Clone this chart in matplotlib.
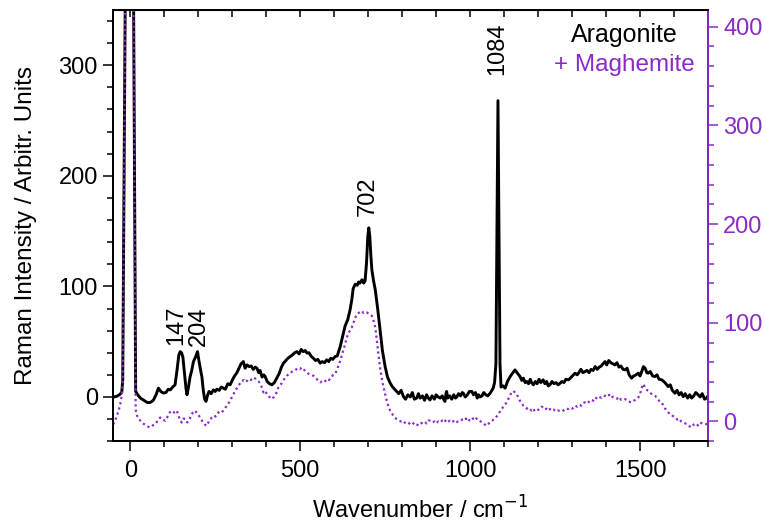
import matplotlib
matplotlib.use('Agg')
import matplotlib.pyplot as plt
import numpy as np
from matplotlib.ticker import MultipleLocator

plt.rcParams['font.family'] = ['Liberation Sans', 'DejaVu Sans']

purple = '#8a2bc8'

# Aragonite spectrum (left axis)
arag_x = [-50, -40, -32, -25, -22, -1, 16, 22, 30, 40, 50, 59, 68, 76, 83, 90, 97, 105, 112, 118,
          125, 132, 138, 143, 147, 151, 155, 160, 164, 167, 171, 176, 181, 186, 192, 198, 202, 206, 211, 215,
          219, 223, 228, 232, 238, 245, 250, 255, 262, 268, 274, 280, 287, 294, 300, 307, 314, 320, 326, 333,
          338, 344, 350, 356, 362, 368, 373, 378, 382, 388, 393, 397, 403, 410, 417, 424, 431, 438, 445, 451,
          458, 464, 471, 477, 484, 490, 497, 503, 509, 515, 520, 526, 532, 539, 545, 552, 559, 565, 572, 578,
          584, 590, 596, 603, 609, 613, 618, 625, 632, 640, 647, 652, 656, 662, 668, 672, 676, 682, 687, 691,
          695, 699, 702, 705, 708, 711, 716, 721, 728, 735, 742, 750, 757, 765, 772, 778, 784, 790, 797, 804,
          810, 817, 824, 830, 836, 843, 848, 853, 860, 866, 872, 877, 882, 888, 895, 900, 906, 912, 918, 922,
          926, 929, 931, 934, 940, 946, 952, 957, 961, 966, 972, 977, 980, 986, 992, 998, 1005, 1010, 1016, 1021,
          1025, 1029, 1035, 1040, 1046, 1052, 1059, 1064, 1068, 1072, 1076, 1082, 1088, 1091, 1097, 1103, 1110, 1118, 1124, 1132,
          1138, 1143, 1147, 1152, 1157, 1162, 1167, 1172, 1177, 1181, 1186, 1192, 1197, 1203, 1208, 1215, 1220, 1225, 1230, 1235,
          1241, 1247, 1253, 1259, 1265, 1270, 1276, 1282, 1289, 1295, 1301, 1309, 1315, 1320, 1326, 1332, 1338, 1344, 1350, 1356,
          1362, 1368, 1374, 1380, 1386, 1391, 1397, 1402, 1408, 1414, 1420, 1426, 1432, 1438, 1444, 1450, 1456, 1462, 1468, 1475,
          1481, 1488, 1495, 1500, 1505, 1510, 1515, 1520, 1524, 1530, 1537, 1544, 1550, 1556, 1564, 1570, 1576, 1583, 1589, 1595,
          1603, 1609, 1615, 1621, 1627, 1633, 1640, 1646, 1652, 1658, 1664, 1671, 1677, 1683, 1690, 1696, 1700]
arag_y = [0, 0.5, 2, 4, 15, 1000, 5, 2, -1, -3, -5, -5, -3, 2, 8, 5, 3.6, 4, 7, 6.4,
          9, 11, 25, 38, 41, 40, 36, 20, 8, 2, 8, 18, 24, 32, 36, 41, 33, 26, 18, 6,
          -2, -4, 2, 5, 3, 6.4, 5, 7, 6, 9, 8, 7, 12, 11, 15, 19, 22, 26, 30, 32,
          26, 29, 27.5, 28, 25, 27, 26, 22, 24, 18, 20, 18.5, 14, 12, 11, 13, 17, 21, 27, 30.6,
          33, 35, 36.6, 38, 40, 41, 39, 43, 41, 42, 39.7, 40, 37, 35, 33, 34, 30.6, 32, 31, 33.6,
          32, 35, 34, 36.6, 37, 41, 45.7, 55, 64, 70, 79, 88, 98, 102, 101, 104, 103, 106, 103, 105,
          120, 145, 153, 145, 128, 115, 105, 97, 80, 61, 42, 27.5, 18, 12.5, 9, 7, 5, 3, 6, 0.3,
          -2, 2, 0, 4, -2, -1, 3, -1, 1, -3, 2, -1, -2.7, 1, -2, 2, 0, -1, 1, -2,
          -4, 3, 5, -1, 1, -2, 2, -1, 0, 3, 1, 4, 3.4, 0, 2, 5, 5, 2, 4, -1,
          2, 0, 1, 4, 2, 1, 3.4, 6, 8, 13, 30, 268, 30, 9, 10, 8, 14, 18.5, 21, 24.5,
          22, 20, 18.5, 15, 17, 13, 14, 12, 16, 13, 11, 14, 12, 16, 13, 15.5, 12, 14, 10, 11,
          14, 12, 13, 11, 12.5, 14, 13, 16, 15.5, 17, 19, 21.5, 20, 22, 25, 22, 23, 24, 22, 25,
          24, 27.5, 25, 27, 28, 30, 32, 29, 33, 31, 30, 29, 31, 27, 28, 25, 24.5, 26, 20, 17,
          19, 20, 21.5, 19, 23, 27.5, 26, 22, 21.5, 23, 19, 18.5, 20, 16, 15.5, 14, 12, 9.4, 11, 6,
          3.4, 6, 2, 4, 0.3, 3, -1, 2, -1, 1, 4, 2, 0, 3, -2, -1, 1]

# Aragonite + Maghemite spectrum (right axis)
magh_x = [-50, -44, -37, -30, -25, -22, -1, 16, 20, 27, 34, 42, 50, 59, 66, 74, 81, 88, 95, 103,
          110, 116, 122, 130, 137, 142, 147, 152, 157, 162, 168, 172, 178, 184, 191, 197, 202, 207, 213, 219,
          225, 230, 235, 240, 246, 251, 255, 262, 268, 274, 280, 287, 294, 301, 309, 316, 322, 328, 335, 341,
          348, 355, 363, 370, 377, 383, 388, 392, 397, 403, 409, 417, 423, 430, 436, 442, 448, 455, 461, 467,
          474, 480, 486, 492, 499, 505, 510, 515, 520, 526, 533, 539, 545, 552, 559, 565, 572, 578, 585, 591,
          597, 603, 610, 618, 625, 632, 637, 643, 648, 652, 657, 662, 667, 672, 676, 681, 686, 691, 696, 702,
          707, 711, 716, 721, 728, 735, 742, 750, 757, 765, 772, 778, 784, 790, 797, 804, 810, 817, 824, 830,
          836, 843, 848, 853, 860, 866, 872, 877, 882, 888, 895, 900, 906, 912, 918, 924, 930, 935, 941, 947,
          953, 959, 965, 971, 977, 983, 988, 994, 1000, 1006, 1012, 1018, 1025, 1031, 1037, 1043, 1049, 1055, 1061, 1066,
          1071, 1076, 1082, 1088, 1094, 1100, 1108, 1114, 1120, 1127, 1133, 1138, 1142, 1148, 1152, 1157, 1162, 1167, 1172, 1176,
          1181, 1186, 1191, 1196, 1201, 1206, 1210, 1215, 1220, 1225, 1230, 1235, 1240, 1246, 1252, 1258, 1265, 1270, 1276, 1282,
          1289, 1295, 1301, 1309, 1315, 1321, 1327, 1333, 1338, 1344, 1350, 1356, 1362, 1368, 1374, 1380, 1386, 1392, 1397, 1403,
          1409, 1414, 1420, 1426, 1432, 1438, 1444, 1450, 1456, 1462, 1468, 1475, 1481, 1488, 1495, 1500, 1505, 1510, 1515, 1520,
          1524, 1530, 1537, 1544, 1550, 1556, 1564, 1570, 1576, 1583, 1589, 1595, 1603, 1609, 1615, 1621, 1627, 1633, 1640, 1646,
          1652, 1658, 1664, 1670, 1676, 1683, 1690, 1696, 1700]
magh_y = [-3, 1, 8, 16, 26, 40, 1150, 12, 6, 2, -1, -3, -5, -6, -4, -2.7, 1, 4, 2, 0.7,
          5, 9, 11, 9, 11, 6, 0.7, -1, 3, 2.4, -1, 0.7, 5, 9, 11, 8, 6, 3, 0, -3,
          -4.4, -1, 2, 4, 6, 5, 7.5, 10, 9, 11, 14, 17, 21, 26, 31, 35, 38, 41, 42, 40,
          43, 42, 44.7, 43, 41, 38, 34, 29.4, 31, 27, 25, 22.7, 25, 29, 34.5, 37, 40, 44, 46.4, 48,
          50, 51.5, 52, 54, 53, 54.8, 53, 51, 49.7, 48, 47, 46.4, 44, 42, 39.6, 41, 40, 43, 42, 45,
          47, 48, 54, 61.6, 70, 78, 85, 90, 93, 95.4, 100, 105, 109, 110, 111, 112, 110, 111, 110.6, 109,
          108, 107, 102, 95.4, 75, 54.8, 40, 27.8, 18, 10.9, 7, 4, 2.4, 1, 0, 0.7, -2, -1, -2.7, -1,
          -3, -4.4, -2, -2.7, -1, 0, -2, 1, 0.7, -1, 0, -2, 0, -1, 1, -1, 2, 0, 0.7, -1,
          1, -1, 0, 0, 2, 1, 3, 0, 2.4, 4, 1, 3, 2.4, 0, -1, -3, -4.4, -2, 0, 1,
          3, 4, 7, 10, 13, 16, 19.3, 24, 28, 31, 29, 27, 24.4, 20, 18, 16, 15, 13, 14, 12.6,
          11, 13, 10, 10.9, 12, 13, 15, 14.2, 12, 13, 11, 12.6, 11, 12, 10, 11, 10.9, 12, 11, 13,
          12.6, 14, 13, 16, 15, 17, 16, 19, 19.3, 18, 20, 22, 21, 24.4, 23, 25, 24, 26, 26, 25,
          27, 24, 25, 24.4, 23, 25, 22, 23, 22.7, 21, 20, 19.3, 21, 22, 24.4, 28, 34, 38, 34, 32,
          31, 29, 27, 26, 24, 21, 19.3, 15, 12, 9, 8, 6, 4, 2, 3, 0, -1, -2, -3, -5,
          -6, -3, -2, -4, -1, -2, -3, -2.7, -2]

peak_labels = ['147', '204', '702', '1084']
peak_label_x = [134, 203, 700, 1079]
peak_label_y = [47, 46, 164, 291]

fig, ax = plt.subplots(figsize=(7.65, 5.24), dpi=100)
fig.subplots_adjust(left=0.148, right=0.9255, bottom=0.158, top=0.981)

ax.plot(arag_x, arag_y, color='black', lw=2.1)
ax.set_xlim(-50, 1700)
ax.set_ylim(-40, 350)
ax.xaxis.set_major_locator(MultipleLocator(500))
ax.xaxis.set_minor_locator(MultipleLocator(100))
ax.yaxis.set_major_locator(MultipleLocator(100))
ax.yaxis.set_minor_locator(MultipleLocator(20))
ax.tick_params(axis='both', which='major', direction='out', length=7.5, width=1.1, labelsize=17)
ax.tick_params(axis='both', which='minor', direction='out', length=4.5, width=1.1)
ax.tick_params(axis='x', which='major', pad=6)
ax.set_xlabel('Wavenumber / cm$^{-1}$', fontsize=17)
ax.set_ylabel('Raman Intensity / Arbitr. Units', fontsize=17.5)
ax.xaxis.set_label_coords(0.517, -0.128)
ax.yaxis.set_label_coords(-0.128, 0.5)

for lab, px, py in zip(peak_labels, peak_label_x, peak_label_y):
    ax.text(px, py, lab, rotation=90, ha='center', va='bottom', fontsize=17)

ax.text(0.86, 0.942, 'Aragonite', transform=ax.transAxes, ha='center', va='center', fontsize=18)
ax.text(0.86, 0.872, '+ Maghemite', transform=ax.transAxes, ha='center', va='center',
        fontsize=17.5, color=purple)

# top ticks pointing inward, no labels
top = ax.secondary_xaxis('top')
top.xaxis.set_major_locator(MultipleLocator(100))
top.tick_params(axis='x', direction='in', length=5, width=1.1, labeltop=False)

ax2 = ax.twinx()
ax2.plot(magh_x, magh_y, color=purple, lw=1.6, ls=(0, (1, 1.4)))
ax2.set_ylim(-20, 417)
ax2.yaxis.set_major_locator(MultipleLocator(100))
ax2.yaxis.set_minor_locator(MultipleLocator(20))
ax2.tick_params(axis='y', which='major', direction='out', length=7.5, width=1.1, labelsize=17,
                colors=purple)
ax2.tick_params(axis='y', which='minor', direction='out', length=4.5, width=1.1, colors=purple)
ax2.spines['right'].set_color(purple)

for sp in ax.spines.values():
    sp.set_linewidth(1.3)
for sp in ax2.spines.values():
    sp.set_linewidth(1.3)

fig.savefig('out.png', dpi=100)
